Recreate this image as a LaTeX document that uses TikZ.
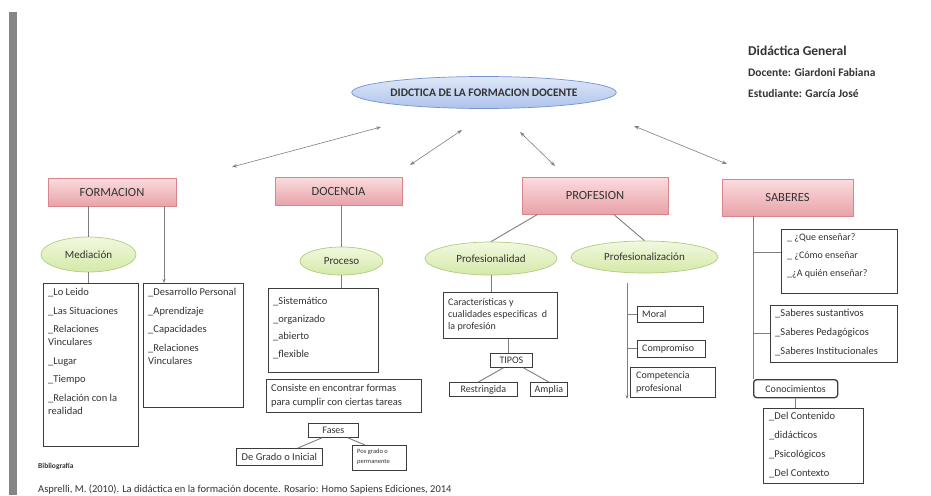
\documentclass[tikz,border=0pt]{standalone}
\usepackage{fontspec}
\setmainfont{Carlito}
\usetikzlibrary{shapes.geometric,arrows.meta}

\definecolor{pinkTop}{HTML}{FADCDF}
\definecolor{pinkBot}{HTML}{E8A3A8}
\definecolor{pinkLine}{HTML}{D8868C}
\definecolor{greenTop}{HTML}{F1F8DF}
\definecolor{greenBot}{HTML}{D4E9A8}
\definecolor{greenLine}{HTML}{B3CB80}
\definecolor{blueTop}{HTML}{DFE8F9}
\definecolor{blueBot}{HTML}{AEC3EB}
\definecolor{blueLine}{HTML}{7394D0}
\definecolor{linkGray}{HTML}{7F7F7F}
\definecolor{boxLine}{HTML}{3C3C3C}
\definecolor{barGray}{HTML}{868686}
\definecolor{textGray}{HTML}{333333}

\begin{document}
\begin{tikzpicture}[x=1pt,y=-1pt,
  topicbox/.style={rectangle, draw=pinkLine, line width=0.7pt, top color=pinkTop,
    bottom color=pinkBot, text=textGray, inner sep=0pt,
    font=\fontsize{12.5}{14}\selectfont},
  bubble/.style={ellipse, draw=greenLine, line width=0.7pt, top color=greenTop,
    bottom color=greenBot, text=textGray, inner sep=0pt,
    font=\fontsize{11}{13}\selectfont},
  listbox/.style={rectangle, draw=boxLine, line width=0.8pt, inner sep=0pt,
    anchor=north west},
  listtext/.style={anchor=north west, align=left, inner sep=0pt, text=textGray,
    font=\fontsize{10.5}{13}\selectfont},
  smallbox/.style={rectangle, draw=boxLine, line width=0.8pt, inner sep=0pt,
    text=textGray, font=\fontsize{10}{12}\selectfont},
  link/.style={draw=linkGray, line width=0.9pt},
  biarrow/.style={draw=linkGray, line width=0.6pt,
    {Stealth[length=5pt,width=3.5pt]}-{Stealth[length=5pt,width=3.5pt]}},
  downarrow/.style={draw=linkGray, line width=0.9pt,
    -{Stealth[length=4pt,width=3pt]}},
  header/.style={anchor=west, inner sep=0pt, text=textGray,
    font=\fontsize{11.5}{13}\selectfont\bfseries},
]
\useasboundingbox (0,0) rectangle (931,495);
\fill[white] (0,0) rectangle (931,495);

% page margin bar
\fill[barGray] (9,12) rectangle (17,495);

% heading on the right
\node[header, font=\fontsize{13.5}{15}\selectfont\bfseries] (course) at (748,51) {Didáctica General};
\node[header] (teacher) at (748,73) {Docente: Giardoni Fabiana};
\node[header] (student) at (748,94) {Estudiante: García José};

% central concept
\node[ellipse, draw=blueLine, line width=0.7pt, top color=blueTop, bottom color=blueBot,
  minimum width=240pt, minimum height=32pt, inner sep=0pt, text=textGray,
  font=\fontsize{11.5}{13}\selectfont\bfseries] (title) at (484,92.5)
  {DIDCTICA DE LA FORMACION DOCENTE};

% main topics
\node[topicbox, minimum width=128pt, minimum height=28pt] (formacion) at (112,192) {FORMACION};
\node[topicbox, minimum width=127pt, minimum height=28pt] (docencia) at (338.5,191) {DOCENCIA};
\node[topicbox, minimum width=146pt, minimum height=37pt] (profesion) at (595,195.5) {PROFESION};
\node[topicbox, minimum width=131pt, minimum height=37pt] (saberes) at (787.5,197.5) {SABERES};

% arrows between the central concept and the topics
\coordinate (t1) at (381,127); \coordinate (f1) at (232,167);
\coordinate (t2) at (462,130); \coordinate (d2) at (410,165);
\coordinate (t3) at (520,132); \coordinate (p3) at (555,166);
\coordinate (t4) at (634,126); \coordinate (s4) at (727,164);
\draw[biarrow] (t1) -- (f1);
\draw[biarrow] (t2) -- (d2);
\draw[biarrow] (t3) -- (p3);
\draw[biarrow] (t4) -- (s4);

% ---------- FORMACION ----------
\node[bubble, minimum width=95pt, minimum height=35pt] (mediacion) at (88.5,254.5) {Mediación};
\node[listbox, minimum width=95pt, minimum height=163pt] (leido) at (43,283) {};
\node[listtext] (leidoT) at (48,288.5)
  {\_Lo Leido\\[5.5pt] \_Las Situaciones\\[5.5pt] \_Relaciones\\ Vinculares\\[5.5pt]
   \_Lugar\\[5.5pt] \_Tiempo\\[5.5pt] \_Relación con la\\ realidad};
\node[listbox, minimum width=100pt, minimum height=124pt] (desarrollo) at (143,283) {};
\node[listtext] (desarrolloT) at (148,288.5)
  {\_Desarrollo Personal\\[5.5pt] \_Aprendizaje\\[5.5pt] \_Capacidades\\[5.5pt]
   \_Relaciones\\ Vinculares};

\draw[link] (mediacion.north |- formacion.south) -- (mediacion.north);
\draw[link] (mediacion.south) -- (mediacion.south |- leido.north);
\draw[downarrow] ([xshift=21pt]desarrollo.north west |- formacion.south)
  -- ([xshift=21pt]desarrollo.north west);

% ---------- DOCENCIA ----------
\node[bubble, minimum width=83pt, minimum height=28pt] (proceso) at (341.5,261) {Proceso};
\node[listbox, minimum width=110pt, minimum height=84pt] (sistematico) at (268,288) {};
\node[listtext] (sistematicoT) at (273,297.5)
  {\_Sistemático\\[4.5pt] \_organizado\\[4.5pt] \_abierto\\[4.5pt] \_flexible};
\node[listbox, minimum width=155pt, minimum height=33pt] (consiste) at (266,379) {};
\node[listtext, font=\fontsize{10.5}{14}\selectfont] (consisteT) at (271,384)
  {Consiste en encontrar formas\\ para cumplir con ciertas tareas};
\node[smallbox, anchor=north west, minimum width=50pt, minimum height=14pt] (fases) at (308,423) {Fases};
\node[smallbox, anchor=north west, minimum width=86pt, minimum height=17pt,
  font=\fontsize{10.5}{12}\selectfont] (degrado) at (236,448) {De Grado o Inicial};
\node[listbox, minimum width=54pt, minimum height=25pt] (posgrado) at (352,445) {};
\node[listtext, font=\fontsize{6.5}{10}\selectfont] (posgradoT) at (357,449)
  {Pos grado o\\ permanente};

\draw[link] (proceso.north |- docencia.south) -- (proceso.north);
\draw[link] (proceso.south) -- (proceso.south |- sistematico.north);
\draw[link] ([xshift=14pt]fases.south west) -- ([xshift=62pt]degrado.north west);
\draw[link] ([xshift=-11pt]fases.south east) -- ([xshift=13pt]posgrado.north west);

% ---------- PROFESION ----------
\node[bubble, minimum width=132pt, minimum height=33pt] (profesionalidad) at (491,258.5) {Profesionalidad};
\node[bubble, minimum width=147pt, minimum height=32pt] (profesionalizacion) at (644.5,257) {Profesionalización};

\node[listbox, minimum width=114pt, minimum height=46pt] (caracteristicas) at (443,292) {};
\node[listtext, font=\fontsize{10}{12}\selectfont] (caracteristicasT) at (448,298.5)
  {Características y\\ cualidades especificas\ \ d\\ la profesión};
\node[smallbox, anchor=north west, minimum width=42pt, minimum height=14pt] (tipos) at (490,353) {TIPOS};
\node[smallbox, anchor=north west, minimum width=68pt, minimum height=14pt] (restringida) at (449,382) {Restringida};
\node[smallbox, anchor=north west, minimum width=37pt, minimum height=14pt] (amplia) at (530,382) {Amplia};

\draw[link] ([xshift=16pt]profesion.south west) -- (profesionalidad.north);
\draw[link] ([xshift=92pt]profesion.south west) -- (profesionalizacion.north);
\draw[link] (profesionalidad.south) -- (profesionalidad.south |- caracteristicas.north);
\draw[link] (tipos.north -| 508,0) -- (508,0 |- caracteristicas.south);
\draw[link] ([xshift=-8pt]tipos.south) -- ([xshift=-5pt]restringida.north);
\draw[link] ([xshift=12pt]tipos.south) -- (amplia.north);

\node[smallbox, anchor=north west, minimum width=66pt, minimum height=16pt] (moral) at (637,306) {};
\node[listtext, anchor=west, font=\fontsize{10}{12}\selectfont] (moralT) at (642,314) {Moral};
\node[smallbox, anchor=north west, minimum width=68pt, minimum height=17pt] (compromiso) at (637,340) {};
\node[listtext, anchor=west, font=\fontsize{10}{12}\selectfont] (compromisoT) at (642,348.5) {Compromiso};
\node[smallbox, anchor=north west, minimum width=85pt, minimum height=30pt] (competencia) at (630,367) {};
\node[listtext, font=\fontsize{10}{13}\selectfont] (competenciaT) at (636,371)
  {Competencia\\ profesional};

\coordinate (pzTop) at (627,283);
\coordinate (pzEnd) at (627,399);
\draw[downarrow] (pzTop) -- (pzEnd);
\draw[link] (moral.west -| pzTop) -- (moral.west);
\draw[link] (compromiso.west -| pzTop) -- (compromiso.west);

% ---------- SABERES ----------
\node[listbox, minimum width=116pt, minimum height=64pt] (quees) at (781,229) {};
\node[listtext, font=\fontsize{10}{13}\selectfont] (queesT) at (787,233.5)
  {\_ ¿Que enseñar?\\[5pt] \_ ¿Cómo enseñar\\[5pt] \_¿A quién enseñar?};
\node[listbox, minimum width=127pt, minimum height=57pt] (saberesbox) at (770,305) {};
\node[listtext] (saberesboxT) at (775,309.5)
  {\_Saberes sustantivos\\[6pt] \_Saberes Pedagógicos\\[6pt] \_Saberes Institucionales};
\node[rectangle, rounded corners=3pt, draw=boxLine, line width=1.3pt, anchor=north west,
  minimum width=84pt, minimum height=18pt, inner sep=0pt, text=textGray,
  font=\fontsize{10}{12}\selectfont] (conocimientos) at (753,379) {Conocimientos};
\node[listbox, minimum width=100pt, minimum height=75pt] (contenido) at (763,408) {};
\node[listtext] (contenidoT) at (769,412.5)
  {\_Del Contenido\\[6pt] \_didácticos\\[6pt] \_Psicológicos\\[6pt] \_Del Contexto};

\coordinate (sbTop) at ([xshift=32pt]saberes.south west);
\draw[link] (sbTop) -- (sbTop |- conocimientos.north);
\draw[link] ([yshift=9pt]quees.west -| sbTop) -- ([yshift=9pt]quees.west);
\draw[link] (saberesbox.west -| sbTop) -- (saberesbox.west);
\draw[link] (conocimientos.south) -- (conocimientos.south |- contenido.north);

% ---------- bibliography ----------
\node[anchor=west, inner sep=0pt, text=textGray, font=\fontsize{7.5}{9}\selectfont\bfseries]
  (biblio) at (38,466) {Bibliografía};
\node[anchor=west, inner sep=0pt, text=textGray, font=\fontsize{10.5}{12}\selectfont]
  (reference) at (38,489)
  {Asprelli, M. (2010). La didáctica en la formación docente. Rosario: Homo Sapiens Ediciones, 2014};
\end{tikzpicture}
\end{document}
